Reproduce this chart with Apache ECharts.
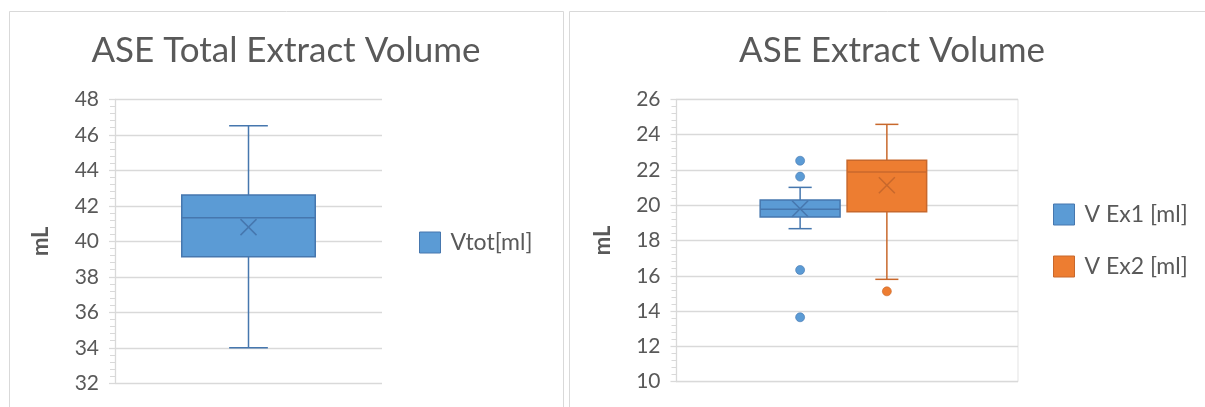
<!DOCTYPE html>
<html>
<head>
<meta charset="utf-8">
<title>ASE Extract Volume</title>
<script src="https://cdn.jsdelivr.net/npm/echarts@6/dist/echarts.min.js"></script>
<style>
  html, body { margin: 0; padding: 0; background: #ffffff; }
  #chart { width: 1205px; height: 407px; }
</style>
</head>
<body>
<div id="chart"></div>
<script>
// Five-number summaries: [min, Q1, median, Q3, max]
const vtotBox = [34.0, 39.13, 41.33, 42.61, 46.51];
const vtotMean = 40.8;
const vtotOutliers = [];

const ex1Box = [18.67, 19.33, 19.77, 20.29, 21.01];
const ex1Mean = 19.8;
const ex1Outliers = [22.52, 21.62, 16.33, 13.65];

const ex2Box = [15.8, 19.63, 21.88, 22.54, 24.58];
const ex2Mean = 21.13;
const ex2Outliers = [15.12];

const totalCategories = ['Vtot[ml]'];
const extractCategories = ['Extract'];
const totalTicks = [32, 48, 2];     // min, max, step
const extractTicks = [10, 26, 2];

const FONT = 'Lato';
const TEXT = '#595959';
const GRID_LINE = '#D9D9D9';

const BLUE = { fill: '#5B9BD5', line: '#4677AE', dot: '#5B9BD5' };
const ORANGE = { fill: '#ED7D31', line: '#C8682C', dot: '#ED7D31' };

// Box-and-whisker drawn from the axis scales; offset/width are fractions of the band.
function boxRenderer(layout, outliers, colors) {
  return function (params, api) {
    const cat = api.value(0);
    const band = api.size([1, 0])[0];
    const cx = api.coord([cat, api.value(3)])[0] + layout.offset * band;
    const w = layout.width * band;
    const capHalf = w * 0.145;
    const y = v => api.coord([cat, v])[1];
    const yMin = y(api.value(1));
    const yQ1 = y(api.value(2));
    const yMed = y(api.value(3));
    const yQ3 = y(api.value(4));
    const yMax = y(api.value(5));
    const yMean = y(api.value(6));
    const lineStyle = { stroke: colors.line, lineWidth: 1.5 };
    const xs = 8;
    const children = [
      { type: 'line', shape: { x1: cx, y1: yQ3, x2: cx, y2: yMax }, style: lineStyle },
      { type: 'line', shape: { x1: cx, y1: yQ1, x2: cx, y2: yMin }, style: lineStyle },
      { type: 'line', shape: { x1: cx - capHalf, y1: yMax, x2: cx + capHalf, y2: yMax }, style: lineStyle },
      { type: 'line', shape: { x1: cx - capHalf, y1: yMin, x2: cx + capHalf, y2: yMin }, style: lineStyle },
      { type: 'rect', shape: { x: cx - w / 2, y: yQ3, width: w, height: yQ1 - yQ3 },
        style: { fill: colors.fill, stroke: colors.line, lineWidth: 1.5 } },
      { type: 'line', shape: { x1: cx - w / 2, y1: yMed, x2: cx + w / 2, y2: yMed }, style: lineStyle },
      { type: 'line', shape: { x1: cx - xs, y1: yMean - xs, x2: cx + xs, y2: yMean + xs }, style: lineStyle },
      { type: 'line', shape: { x1: cx - xs, y1: yMean + xs, x2: cx + xs, y2: yMean - xs }, style: lineStyle }
    ];
    outliers.forEach(v => {
      children.push({ type: 'circle', shape: { cx: cx, cy: y(v), r: 4.5 },
        style: { fill: colors.dot, stroke: colors.line, lineWidth: 0.6 } });
    });
    return { type: 'group', children: children };
  };
}

function valueAxis(grid, ticks, nameGap) {
  return {
    gridIndex: grid,
    type: 'value',
    min: ticks[0],
    max: ticks[1],
    interval: ticks[2],
    name: 'mL',
    nameLocation: 'middle',
    nameRotate: 90,
    nameGap: nameGap,
    nameTextStyle: { color: TEXT, fontFamily: FONT, fontSize: 22, fontWeight: 'bold' },
    axisLine: { show: true, lineStyle: { color: GRID_LINE, width: 1.3 } },
    axisTick: { show: true, length: 6, lineStyle: { color: GRID_LINE, width: 1.3 } },
    minorTick: { show: true, splitNumber: 5, length: 5, lineStyle: { color: GRID_LINE, width: 1 } },
    splitLine: { show: true, lineStyle: { color: GRID_LINE, width: 1.3 } },
    axisLabel: { color: TEXT, fontFamily: FONT, fontSize: 21, margin: 16 }
  };
}

function categoryAxis(grid, cats) {
  return {
    gridIndex: grid,
    type: 'category',
    data: cats,
    axisLine: { show: false },
    axisTick: { show: false },
    axisLabel: { show: false },
    splitLine: { show: false }
  };
}

const chart = echarts.init(document.getElementById('chart'), null, { renderer: 'canvas' });

chart.setOption({
  backgroundColor: '#ffffff',
  animation: false,
  textStyle: { fontFamily: FONT },
  graphic: [
    { type: 'rect', shape: { x: 9.5, y: 11.5, width: 554, height: 420 },
      style: { fill: 'none', stroke: '#D9D9D9', lineWidth: 1 }, z: -10 },
    { type: 'rect', shape: { x: 569.5, y: 11.5, width: 700, height: 420 },
      style: { fill: 'none', stroke: '#D9D9D9', lineWidth: 1 }, z: -10 }
  ],
  title: [
    { text: 'ASE Total Extract Volume', left: 286, top: 33, textAlign: 'center', padding: 0,
      textStyle: { color: TEXT, fontFamily: FONT, fontSize: 35, fontWeight: 'normal' } },
    { text: 'ASE Extract Volume', left: 892, top: 33, textAlign: 'center', padding: 0,
      textStyle: { color: TEXT, fontFamily: FONT, fontSize: 35, fontWeight: 'normal' } }
  ],
  legend: [
    { left: 419, top: 231, padding: 0, itemWidth: 21, itemHeight: 21, selectedMode: false,
      textStyle: { color: TEXT, fontFamily: FONT, fontSize: 23, padding: [0, 0, 0, 5] },
      data: [{ name: 'Vtot[ml]', icon: 'rect',
        itemStyle: { color: BLUE.fill, borderColor: BLUE.line, borderWidth: 1 } }] },
    { left: 1053, top: 203, padding: 0, orient: 'vertical', itemGap: 29,
      itemWidth: 21, itemHeight: 21, selectedMode: false,
      textStyle: { color: TEXT, fontFamily: FONT, fontSize: 23, padding: [0, 0, 0, 5] },
      data: [
        { name: 'V Ex1 [ml]', icon: 'rect',
          itemStyle: { color: BLUE.fill, borderColor: BLUE.line, borderWidth: 1 } },
        { name: 'V Ex2 [ml]', icon: 'rect',
          itemStyle: { color: ORANGE.fill, borderColor: ORANGE.line, borderWidth: 1 } }
      ] }
  ],
  grid: [
    { left: 115, right: 823, top: 99.3, bottom: 23.7, show: false },
    { left: 676.5, right: 187, top: 99.3, bottom: 25.3, show: true,
      borderColor: '#E3E3E3', borderWidth: 1, backgroundColor: 'transparent' }
  ],
  xAxis: [categoryAxis(0, totalCategories), categoryAxis(1, extractCategories)],
  yAxis: [valueAxis(0, totalTicks, 63), valueAxis(1, extractTicks, 63)],
  series: [
    {
      name: 'Vtot[ml]', type: 'custom', xAxisIndex: 0, yAxisIndex: 0,
      itemStyle: { color: BLUE.fill },
      renderItem: boxRenderer({ offset: 0, width: 0.5 }, vtotOutliers, BLUE),
      encode: { x: 0, y: [1, 2, 3, 4, 5, 6] },
      data: [[0].concat(vtotBox, [vtotMean])]
    },
    {
      name: 'V Ex1 [ml]', type: 'custom', xAxisIndex: 1, yAxisIndex: 1,
      itemStyle: { color: BLUE.fill },
      renderItem: boxRenderer({ offset: -0.138, width: 0.234 }, ex1Outliers, BLUE),
      encode: { x: 0, y: [1, 2, 3, 4, 5, 6] },
      data: [[0].concat(ex1Box, [ex1Mean])]
    },
    {
      name: 'V Ex2 [ml]', type: 'custom', xAxisIndex: 1, yAxisIndex: 1,
      itemStyle: { color: ORANGE.fill },
      renderItem: boxRenderer({ offset: 0.116, width: 0.233 }, ex2Outliers, ORANGE),
      encode: { x: 0, y: [1, 2, 3, 4, 5, 6] },
      data: [[0].concat(ex2Box, [ex2Mean])]
    }
  ]
});
</script>
</body>
</html>
